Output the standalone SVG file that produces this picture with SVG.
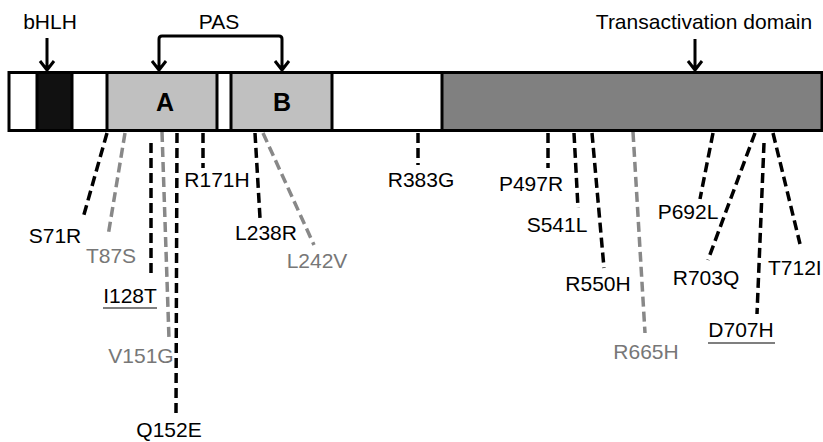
<svg xmlns="http://www.w3.org/2000/svg" width="823" height="442" viewBox="0 0 823 442">
<style>
text{font-family:"Liberation Sans",Arial,sans-serif;font-size:21px;fill:#000}
.g{fill:#777}
.dom{font-weight:bold;font-size:25px;text-anchor:middle}
.lab{text-anchor:middle}
.mut{fill:none;stroke:#000;stroke-width:3.5;stroke-dasharray:10 5}
.mg{stroke:#888}
.arr{fill:none;stroke:#000;stroke-width:3;stroke-linejoin:round}
.seg{stroke:#000;stroke-width:3}
</style>
<rect width="823" height="442" fill="#fff"/>
<g id="protein">
<rect x="9" y="72.5" width="813" height="58" fill="#fff" class="seg"/>
<rect x="37" y="72.5" width="35" height="58" fill="#111" class="seg"/>
<rect x="107" y="72.5" width="110" height="58" fill="#c0c0c0" class="seg"/>
<rect x="231" y="72.5" width="101" height="58" fill="#c0c0c0" class="seg"/>
<rect x="442" y="72.5" width="380" height="58" fill="#808080" class="seg"/>
<text class="dom" x="165" y="111">A</text>
<text class="dom" x="282" y="111">B</text>
</g>
<g id="bHLH">
<text class="lab" x="50" y="29">bHLH</text>
<path class="arr" d="M47 38V70M40 61L47 70L54 61"/>
</g>
<g id="PAS">
<text class="lab" x="219" y="29">PAS</text>
<path class="arr" d="M159 70V39Q159 36 162 36H279Q282 36 282 39V70M152 61L159 70L166 61M275 61L282 70L289 61"/>
</g>
<g id="TAD">
<text class="lab" x="704" y="29">Transactivation domain</text>
<path class="arr" d="M695 39V70M688 61L695 70L702 61"/>
</g>
<g id="connectors">
<path class="mut" d="M107 133L83 218"/>
<path class="mut mg" d="M125 133L108 236"/>
<path class="mut" d="M151 143V277"/>
<path class="mut mg" d="M162 132L169 339"/>
<path class="mut" d="M177 133L176 415"/>
<path class="mut" d="M203 133V168"/>
<path class="mut" d="M255 133L260 218"/>
<path class="mut mg" d="M263 133L314 245"/>
<path class="mut" d="M418 133V165"/>
<path class="mut" d="M548 133V168"/>
<path class="mut" d="M574 133L578 208"/>
<path class="mut" d="M592 133L604 268"/>
<path class="mut mg" d="M633 132L645 333"/>
<path class="mut" d="M713 133L700 199"/>
<path class="mut" d="M755 133L708 260"/>
<path class="mut" d="M764 143L757 314"/>
<path class="mut" d="M773 133L800 244"/>
</g>
<g id="labels">
<text class="lab" x="55" y="243">S71R</text>
<text class="lab g" x="111" y="263">T87S</text>
<text class="lab" x="130" y="303">I128T</text>
<line x1="103" y1="308" x2="157" y2="308" stroke="#000" stroke-width="1.2"/>
<text class="lab g" x="141" y="363">V151G</text>
<text class="lab" x="169" y="437">Q152E</text>
<text class="lab" x="217" y="187">R171H</text>
<text class="lab" x="266" y="240">L238R</text>
<text class="lab g" x="317" y="268">L242V</text>
<text class="lab" x="421" y="187">R383G</text>
<text class="lab" x="531" y="191">P497R</text>
<text class="lab" x="557" y="232">S541L</text>
<text class="lab" x="598" y="291">R550H</text>
<text class="lab g" x="646" y="359">R665H</text>
<text class="lab" x="688" y="219">P692L</text>
<text class="lab" x="706" y="285">R703Q</text>
<text class="lab" x="741" y="337">D707H</text>
<line x1="708" y1="343" x2="775" y2="343" stroke="#000" stroke-width="1.2"/>
<text x="768" y="275">T712I</text>
</g>
</svg>
